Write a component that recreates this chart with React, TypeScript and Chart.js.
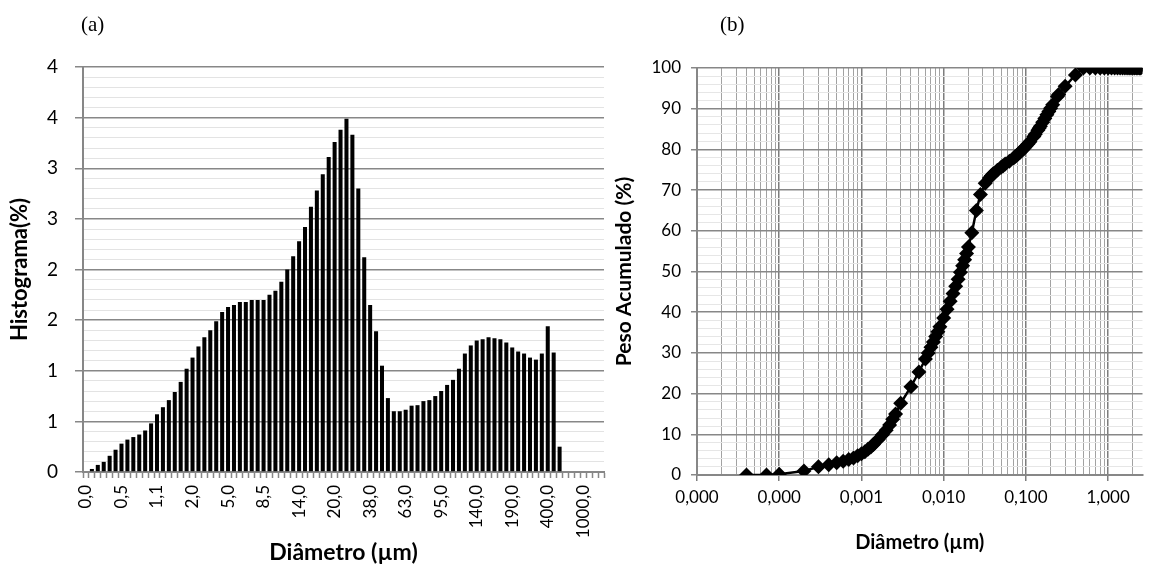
import React, { useEffect, useRef } from "react";
import { Chart, registerables } from "chart.js";

Chart.register(...registerables);

// ---------- Data: (a) histogram ----------
const histSizes: number[] = [
  0.04, 0.07, 0.1, 0.2, 0.3, 0.4, 0.5, 0.6, 0.7, 0.8, 0.9, 1.0, 1.1, 1.2, 1.3, 1.4, 1.6, 1.8, 2.0, 2.2,
  2.4, 2.6, 3.0, 4.0, 5.0, 6.0, 6.5, 7.0, 7.5, 8.0, 8.5, 9.0, 10, 11, 12, 13, 14, 15, 16, 17,
  18, 19, 20, 22, 25, 28, 32, 36, 38, 40, 45, 50, 53, 56, 63, 71, 75, 80, 85, 90,
  95, 100, 106, 112, 125, 130, 140, 145, 150, 160, 170, 180, 190, 200, 212, 242, 250, 300, 400, 500,
  600, 700, 800, 900, 1000, 1100, 1200, 1300,
];

const histValues: number[] = [
  0, 0.03, 0.07, 0.1, 0.16, 0.22, 0.28, 0.32, 0.345, 0.37, 0.41, 0.48, 0.57, 0.64, 0.71, 0.79, 0.89, 1.02, 1.13, 1.24,
  1.33, 1.4, 1.49, 1.58, 1.63, 1.65, 1.68, 1.68, 1.7, 1.7, 1.7, 1.75, 1.79, 1.88, 2.0, 2.13, 2.28, 2.42, 2.62, 2.78,
  2.94, 3.11, 3.26, 3.38, 3.49, 3.33, 2.8, 2.12, 1.65, 1.39, 1.05, 0.73, 0.6, 0.6, 0.615, 0.655, 0.66, 0.7, 0.71, 0.75,
  0.8, 0.86, 0.91, 1.02, 1.17, 1.25, 1.3, 1.31, 1.33, 1.32, 1.31, 1.28, 1.23, 1.19, 1.17, 1.13, 1.11, 1.17, 1.44, 1.18,
  0.25, 0, 0, 0, 0, 0, 0, 0,
];

const histLabelStep = 6;
const yTickValuesA: number[] = [0, 0.5, 1, 1.5, 2, 2.5, 3, 3.5, 4];
const yTickLabelsA: string[] = ["0", "1", "1", "2", "2", "3", "3", "4", "4"];
const yMinorStepA = 0.1;

// ---------- Data: (b) cumulative ----------
const cumSizesUm: number[] = [
  0.04, 0.07, 0.1, 0.2, 0.3, 0.4, 0.5, 0.6, 0.7, 0.8, 0.9, 1.0, 1.1, 1.2, 1.3, 1.4, 1.6, 1.8, 2.0, 2.2,
  2.4, 2.6, 3.0, 4.0, 5.0, 6.0, 6.5, 7.0, 7.5, 8.0, 8.5, 9.0, 10, 11, 12, 13, 14, 15, 16, 17,
  18, 19, 20, 22, 25, 28, 32, 36, 38, 40, 45, 50, 53, 56, 63, 71, 75, 80, 85, 90,
  95, 100, 106, 112, 125, 130, 140, 145, 150, 160, 170, 180, 190, 200, 212, 242, 250, 300, 400, 500,
  600, 700, 800, 900, 1000, 1100, 1200, 1300, 1400, 1500, 1600, 1700, 1800, 1900, 2000, 2100, 2200, 2300, 2400, 2500,
];

const cumValues: number[] = [
  0, 0, 0.2, 1.0, 2.0, 2.5, 3.0, 3.4, 3.8, 4.2, 4.7, 5.2, 5.7, 6.3, 6.9, 7.5, 8.7, 9.9, 11.0, 12.3,
  13.7, 15.0, 17.6, 21.7, 25.3, 28.5, 30.0, 31.4, 32.7, 34.0, 35.2, 36.4, 38.6, 40.7, 42.7, 44.6, 46.4, 48.1, 49.8, 51.4,
  52.9, 54.4, 56.0, 59.5, 65.0, 68.9, 71.7, 73.0, 73.5, 74.0, 74.9, 75.6, 76.0, 76.4, 77.1, 77.9, 78.3, 78.8, 79.3, 79.8,
  80.3, 80.8, 81.3, 81.9, 83.2, 83.7, 84.7, 85.2, 85.7, 86.7, 87.6, 88.5, 89.3, 90.1, 91.0, 93.0, 93.5, 95.5, 98.3, 100,
  100, 100, 100, 100, 100, 100, 100, 100, 100, 100, 100, 100, 100, 100, 100, 100, 100, 100, 100, 100,
];

const xDecadesB: number[] = [1e-5, 1e-4, 1e-3, 1e-2, 1e-1, 1];
const xDecadeLabelsB: string[] = ["0,000", "0,000", "0,001", "0,010", "0,100", "1,000"];
const xMaxB = 2.62;
const yTickValuesB: number[] = [0, 10, 20, 30, 40, 50, 60, 70, 80, 90, 100];
const yMinorStepB = 2;

const FONT = "Lato, 'Open Sans', 'Liberation Sans', sans-serif";
const MAJOR = "#878787";
const MINOR_A = "#e3e3e3";

const fmtComma = (v: number, d: number) => v.toFixed(d).replace(".", ",");

const zeroSidePadding = (s: any) => {
  s.paddingLeft = 0;
  s.paddingRight = 0;
};
const zeroVertPadding = (s: any) => {
  s.paddingTop = 0;
  s.paddingBottom = 0;
};

function HistChart() {
  const ref = useRef<HTMLCanvasElement | null>(null);
  useEffect(() => {
    const labels = histSizes.map((s) => fmtComma(s, 1));
    const nMinor = Math.round(4 / yMinorStepA);
    const yTicks: number[] = [];
    for (let i = 0; i <= nMinor; i++) yTicks.push(Math.round(i * yMinorStepA * 10) / 10);
    const isMajor = (v: number) => yTickValuesA.some((m) => Math.abs(m - v) < 1e-6);
    const chart = new Chart(ref.current!, {
      type: "bar",
      data: {
        labels,
        datasets: [
          {
            data: histValues,
            backgroundColor: "#000",
            borderWidth: 0,
            barPercentage: 0.68,
            categoryPercentage: 1,
          },
        ],
      },
      options: {
        animation: false,
        responsive: false,
        maintainAspectRatio: false,
        layout: { padding: { top: 67, right: 6, left: 0, bottom: 0 } },
        plugins: { legend: { display: false }, tooltip: { enabled: false } },
        scales: {
          x: {
            grid: {
              offset: true,
              drawOnChartArea: false,
              drawTicks: true,
              tickLength: 6,
              tickColor: MAJOR,
              tickWidth: 1.5,
            } as any,
            border: { display: true, color: MAJOR, width: 2 },
            ticks: {
              autoSkip: false,
              maxRotation: 90,
              minRotation: 90,
              padding: 7,
              color: "#000",
              font: { family: FONT, size: 17 },
              callback: (_v: any, i: number) => (i % histLabelStep === 0 ? labels[i] : ""),
            },
            title: {
              display: true,
              text: "Diâmetro (µm)",
              color: "#000",
              font: { family: FONT, size: 23, weight: "bold" },
              padding: { top: 0, bottom: 8 },
            },
            afterFit: (s: any) => {
              s.height = 102;
              zeroSidePadding(s);
            },
          },
          y: {
            min: 0,
            max: 4,
            afterBuildTicks: (s: any) => {
              s.ticks = yTicks.map((v) => ({ value: v }));
            },
            grid: {
              color: (ctx: any) => (isMajor(ctx.tick?.value) ? MAJOR : MINOR_A),
              lineWidth: (ctx: any) => (isMajor(ctx.tick?.value) ? 1.5 : 1),
              tickColor: (ctx: any) => (isMajor(ctx.tick?.value) ? MAJOR : "rgba(0,0,0,0)"),
              tickLength: 8,
            },
            border: { display: true, color: MAJOR, width: 2 },
            ticks: {
              padding: 17,
              color: "#000",
              font: { family: FONT, size: 19 },
              autoSkip: false,
              callback: (v: any) => {
                const idx = yTickValuesA.findIndex((m) => Math.abs(m - Number(v)) < 1e-6);
                return idx >= 0 ? yTickLabelsA[idx] : "";
              },
            },
            title: {
              display: true,
              text: "Histograma(%)",
              color: "#000",
              font: { family: FONT, size: 22, weight: "bold" },
              padding: { top: 7, bottom: 0 },
            },
            afterFit: (s: any) => {
              s.width = 83;
              zeroVertPadding(s);
            },
          },
        },
      },
    } as any);
    return () => chart.destroy();
  }, []);
  return (
    <canvas
      ref={ref}
      width={610}
      height={574}
      style={{ position: "absolute", left: 0, top: 0, width: 610, height: 574 }}
    />
  );
}

function CumChart() {
  const ref = useRef<HTMLCanvasElement | null>(null);
  useEffect(() => {
    const points = cumSizesUm.map((s, i) => ({ x: s / 1000, y: cumValues[i] }));
    const xTicks: number[] = [];
    for (let e = -5; e <= 0; e++) {
      for (let m = 1; m <= 9; m++) {
        const v = m * Math.pow(10, e);
        if (v <= xMaxB) xTicks.push(v);
      }
    }
    const isDecade = (v: number) => {
      const l = Math.log10(v);
      return Math.abs(l - Math.round(l)) < 1e-6;
    };
    const yTicks: number[] = [];
    for (let v = 0; v <= 100; v += yMinorStepB) yTicks.push(v);
    const isMajorY = (v: number) => yTickValuesB.includes(v);
    const chart = new Chart(ref.current!, {
      type: "line",
      data: {
        datasets: [
          {
            data: points,
            borderColor: "#000",
            backgroundColor: "#000",
            borderWidth: 2.5,
            pointStyle: "rectRot",
            pointRadius: 7.5,
            pointBorderWidth: 0,
            pointBackgroundColor: "#000",
            tension: 0,
          },
        ],
      },
      options: {
        animation: false,
        responsive: false,
        maintainAspectRatio: false,
        layout: { padding: { top: 68, right: 0, left: 0, bottom: 0 } },
        plugins: { legend: { display: false }, tooltip: { enabled: false } },
        scales: {
          x: {
            type: "logarithmic",
            min: 1e-5,
            max: xMaxB,
            afterBuildTicks: (s: any) => {
              s.ticks = xTicks.map((v) => ({ value: v }));
            },
            grid: {
              color: (ctx: any) => (isDecade(ctx.tick?.value) ? "#7d7d7d" : "#a2a2a2"),
              lineWidth: (ctx: any) => (isDecade(ctx.tick?.value) ? 1.5 : 1),
              tickColor: (ctx: any) => (isDecade(ctx.tick?.value) ? "#7d7d7d" : "rgba(0,0,0,0)"),
              tickLength: 6,
            },
            border: { display: true, color: MAJOR, width: 2 },
            ticks: {
              autoSkip: false,
              maxRotation: 0,
              minRotation: 0,
              padding: 6,
              color: "#000",
              font: { family: FONT, size: 17 },
              callback: (v: any) => {
                const n = Number(v);
                if (!isDecade(n)) return "";
                const idx = xDecadesB.findIndex((d) => Math.abs(Math.log10(d) - Math.log10(n)) < 1e-6);
                return idx >= 0 ? xDecadeLabelsB[idx] : "";
              },
            },
            title: {
              display: true,
              text: "Diâmetro (µm)",
              color: "#000",
              font: { family: FONT, size: 20, weight: "bold" },
              padding: { top: 0, bottom: 19 },
            },
            afterFit: (s: any) => {
              s.height = 99;
              zeroSidePadding(s);
            },
          },
          y: {
            min: 0,
            max: 100,
            afterBuildTicks: (s: any) => {
              s.ticks = yTicks.map((v) => ({ value: v }));
            },
            grid: {
              color: (ctx: any) => (isMajorY(ctx.tick?.value) ? MAJOR : "#e6e6e6"),
              lineWidth: (ctx: any) => (isMajorY(ctx.tick?.value) ? 1.5 : 1),
              tickColor: (ctx: any) => (isMajorY(ctx.tick?.value) ? MAJOR : "rgba(0,0,0,0)"),
              tickLength: 6,
            },
            border: { display: true, color: MAJOR, width: 2 },
            ticks: {
              autoSkip: false,
              padding: 10,
              color: "#000",
              font: { family: FONT, size: 17 },
              callback: (v: any) => (isMajorY(Number(v)) ? String(v) : ""),
            },
            title: {
              display: true,
              text: "Peso Acumulado (%)",
              color: "#000",
              font: { family: FONT, size: 21, weight: "bold" },
              padding: { top: 2, bottom: 0 },
            },
            afterFit: (s: any) => {
              s.width = 87;
              zeroVertPadding(s);
            },
          },
        },
      },
    } as any);
    return () => chart.destroy();
  }, []);
  return (
    <canvas
      ref={ref}
      width={540}
      height={574}
      style={{ position: "absolute", left: 610, top: 0, width: 540, height: 574 }}
    />
  );
}

export default function App() {
  const panelLabel: React.CSSProperties = {
    position: "absolute",
    top: 12,
    fontFamily: "'Liberation Serif', 'DejaVu Serif', serif",
    fontSize: 21,
    color: "#000",
  };
  return (
    <div
      style={{
        position: "fixed",
        left: 0,
        top: 0,
        width: 1150,
        height: 574,
        background: "#fff",
        overflow: "hidden",
      }}
    >
      <HistChart />
      <CumChart />
      <div style={{ ...panelLabel, left: 81 }}>(a)</div>
      <div style={{ ...panelLabel, left: 720 }}>(b)</div>
    </div>
  );
}
